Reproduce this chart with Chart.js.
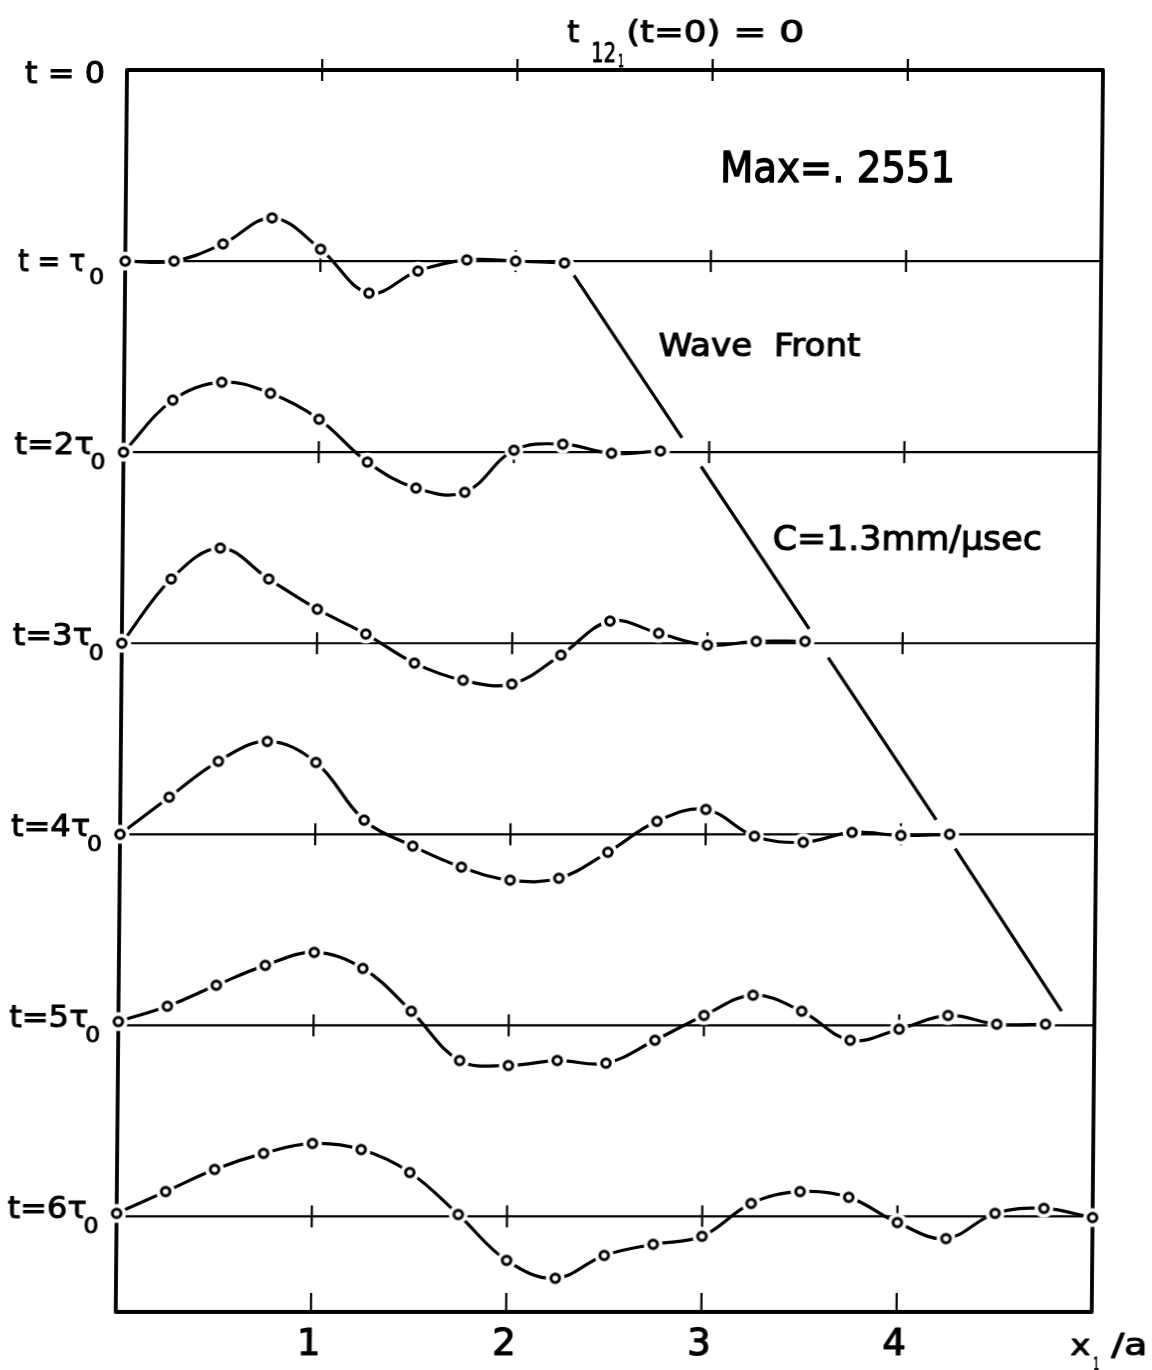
<!DOCTYPE html>
<html>
<head>
<meta charset="utf-8">
<script src="https://cdn.jsdelivr.net/npm/chart.js@4.4.1/dist/chart.umd.min.js"></script>
<style>
  html, body { margin: 0; padding: 0; background: #fff; overflow: hidden; }
  #wrap { position: relative; width: 1152px; height: 1370px; overflow: hidden; }
  #c { position: absolute; left: 0; top: 0; transform: skewX(-0.52deg); transform-origin: 0 70px; }
</style>
</head>
<body>
<div id="wrap"><canvas id="c" width="1170" height="1370"></canvas></div>
<script>
// ---------------- data ----------------
const xPositions = [0, 0.25, 0.5, 0.75, 1, 1.25, 1.5, 1.75, 2, 2.25, 2.5, 2.75, 3, 3.25, 3.5, 3.75, 4, 4.25, 4.5, 4.75, 5];
const rowLabelMain = ['t = 0', 't = τ', 't=2τ', 't=3τ', 't=4τ', 't=5τ', 't=6τ'];
const rowLabelSub  = ['', '0', '0', '0', '0', '0', '0'];
const stressTau1 = [0, 0, 0.045, 0.113, 0.031, -0.084, -0.026, 0.003, 0, -0.005];
const stressTau2 = [0, 0.136, 0.183, 0.154, 0.086, -0.026, -0.094, -0.105, 0.005, 0.021, -0.003, 0.003];
const stressTau3 = [0, 0.168, 0.249, 0.168, 0.089, 0.024, -0.052, -0.097, -0.107, -0.031, 0.058, 0.026, -0.005, 0.005, 0.005];
const stressTau4 = [0, 0.097, 0.191, 0.243, 0.188, 0.037, -0.031, -0.086, -0.120, -0.115, -0.047, 0.034, 0.065, -0.005, -0.021, 0.005, -0.003, 0];
const stressTau5 = [0.010, 0.050, 0.105, 0.157, 0.191, 0.149, 0.037, -0.092, -0.105, -0.092, -0.099, -0.039, 0.026, 0.079, 0.037, -0.039, -0.010, 0.026, 0.003, 0.003];
const stressTau6 = [0.008, 0.065, 0.123, 0.165, 0.191, 0.175, 0.115, 0.005, -0.115, -0.162, -0.102, -0.073, -0.052, 0.034, 0.065, 0.050, -0.016, -0.058, 0.008, 0.021, -0.003];
const waveFrontX = [2.25, 2.91, 3.57, 4.23, 4.88];   // crossing of rows t=τ0 ... t=5τ0
const xTickValues = [1, 2, 3, 4];
const xTickLabels = ['1', '2', '3', '4'];
const rowSpacing = 0.5;   // vertical offset between successive time rows
const xMin = 0, xMax = 5, yMin = -3.25, yMax = 0;

// ---------------- build datasets ----------------
const FONT = '"DejaVu Sans", "Liberation Sans", sans-serif';
const allSeries = [stressTau1, stressTau2, stressTau3, stressTau4, stressTau5, stressTau6];

const halo = document.createElement('canvas');
halo.width = 24; halo.height = 24;
(function () {
  const h = halo.getContext('2d');
  h.fillStyle = '#fff';
  h.beginPath(); h.arc(12, 12, 9.5, 0, Math.PI * 2); h.fill();
  h.strokeStyle = '#000'; h.lineWidth = 3;
  h.beginPath(); h.arc(12, 12, 4.3, 0, Math.PI * 2); h.stroke();
})();

const datasets = [];
const wf = [];
for (let i = 0; i < waveFrontX.length - 1; i++) {
  const k = i + 1, g = 0.075;
  const x0 = waveFrontX[i], x1 = waveFrontX[i + 1];
  const y0 = -k * rowSpacing, y1 = -(k + 1) * rowSpacing;
  wf.push({ x: x0 + (x1 - x0) * g, y: y0 + (y1 - y0) * g });
  wf.push({ x: x0 + (x1 - x0) * (1 - g), y: y0 + (y1 - y0) * (1 - g) });
  wf.push({ x: x1, y: null });
}
datasets.push({
  data: wf, borderColor: '#000', borderWidth: 3.2, pointRadius: 0, tension: 0,
  spanGaps: false, order: 10, clip: false
});
allSeries.forEach((vals, idx) => {
  const k = idx + 1;
  datasets.push({
    data: vals.map((v, i) => ({ x: xPositions[i], y: v - k * rowSpacing })),
    borderColor: '#000', borderWidth: 3.2, tension: 0.38,
    pointStyle: halo, pointRadius: 5, pointHoverRadius: 5,
    order: 1, clip: false
  });
});

// ---------------- helpers ----------------
function txt(ctx, s, x, yBase, size, targetW, align) {
  ctx.save();
  ctx.font = size + 'px ' + FONT;
  ctx.textBaseline = 'alphabetic';
  ctx.textAlign = 'left';
  let w = ctx.measureText(s).width;
  let sx = 1;
  if (targetW) { sx = targetW / w; w = targetW; }
  let x0 = x;
  if (align === 'center') x0 = x - w / 2;
  else if (align === 'right') x0 = x - w;
  ctx.translate(x0, yBase);
  ctx.scale(sx, 1);
  ctx.fillStyle = '#000';
  ctx.strokeStyle = '#000';
  ctx.lineWidth = Math.max(0.8, size / 30);
  ctx.lineJoin = 'round';
  ctx.fillText(s, 0, 0);
  ctx.strokeText(s, 0, 0);
  ctx.restore();
}
function seg(ctx, x1, y1, x2, y2) { ctx.beginPath(); ctx.moveTo(x1, y1); ctx.lineTo(x2, y2); ctx.stroke(); }

const decor = {
  id: 'decor',
  beforeDatasetsDraw(chart) {
    const { ctx, chartArea: a, scales: { x, y } } = chart;
    ctx.save();
    ctx.strokeStyle = '#000';
    // row baselines
    ctx.lineWidth = 2.2;
    for (let k = 1; k < rowLabelMain.length; k++) {
      const py = y.getPixelForValue(-k * rowSpacing);
      seg(ctx, a.left, py, a.right, py);
    }
    // ticks on each row (including top border = t=0)
    for (let k = 0; k < rowLabelMain.length; k++) {
      const py = y.getPixelForValue(-k * rowSpacing);
      xTickValues.forEach(v => { const px = x.getPixelForValue(v); seg(ctx, px, py - 11, px, py + 11); });
    }
    // bottom ticks
    xTickValues.forEach(v => { const px = x.getPixelForValue(v); seg(ctx, px, a.bottom, px, a.bottom - 19); });
    // frame
    ctx.lineWidth = 3.8; ctx.lineJoin = 'round';
    ctx.strokeRect(a.left, a.top, a.right - a.left, a.bottom - a.top);
    ctx.restore();
  },
  afterDraw(chart) {
    const { ctx, chartArea: a, scales: { x, y } } = chart;
    // row labels
    for (let k = 0; k < rowLabelMain.length; k++) {
      const py = y.getPixelForValue(-k * rowSpacing);
      if (k === 0) {
        txt(ctx, rowLabelMain[k], a.left - 22, py + 13, 31, 80, 'right');
      } else if (k === 1) {
        txt(ctx, rowLabelMain[k], a.left - 40, py + 10, 31, 67, 'right');
        txt(ctx, rowLabelSub[k], a.left - 21, py + 23, 21, 15, 'right');
      } else {
        txt(ctx, rowLabelMain[k], a.left - 30, py + 2, 31, 79, 'right');
        txt(ctx, rowLabelSub[k], a.left - 18, py + 17, 21, 15, 'right');
      }
    }
    // title  t_{12_1}(t=0) = 0
    txt(ctx, 't', 567, 42, 31, 12, 'left');
    txt(ctx, '12', 591, 62, 26, 25, 'left');
    txt(ctx, '1', 618, 67, 18, 6, 'left');
    txt(ctx, '(t=0)', 626, 42, 31, 94, 'left');
    txt(ctx, '= 0', 733, 42, 31, 71, 'left');
    // annotations
    txt(ctx, 'Max=. 2551', 721, 182, 42, 235, 'left');
    txt(ctx, 'Wave  Front', 661, 356, 32, 202, 'left');
    txt(ctx, 'C=1.3mm/μsec', 777, 550, 34, 269, 'left');
    // x tick labels
    xTickValues.forEach((v, i) => {
      txt(ctx, xTickLabels[i], x.getPixelForValue(v) - 2, 1355, 37, null, 'center');
    });
    // axis title x1/a
    txt(ctx, 'x', 1082, 1355, 28, 20, 'left');
    txt(ctx, '1', 1105, 1370, 18, 6, 'left');
    txt(ctx, '/a', 1123, 1355, 30, 36, 'left');
  }
};

new Chart(document.getElementById('c'), {
  type: 'line',
  data: { datasets },
  options: {
    responsive: false, animation: false, devicePixelRatio: 1, events: [],
    layout: { padding: { left: 127, right: 67, top: 70, bottom: 58 } },
    scales: {
      x: { type: 'linear', min: xMin, max: xMax, display: false },
      y: { type: 'linear', min: yMin, max: yMax, display: false }
    },
    plugins: { legend: { display: false }, tooltip: { enabled: false } }
  },
  plugins: [decor]
});
</script>
</body>
</html>
